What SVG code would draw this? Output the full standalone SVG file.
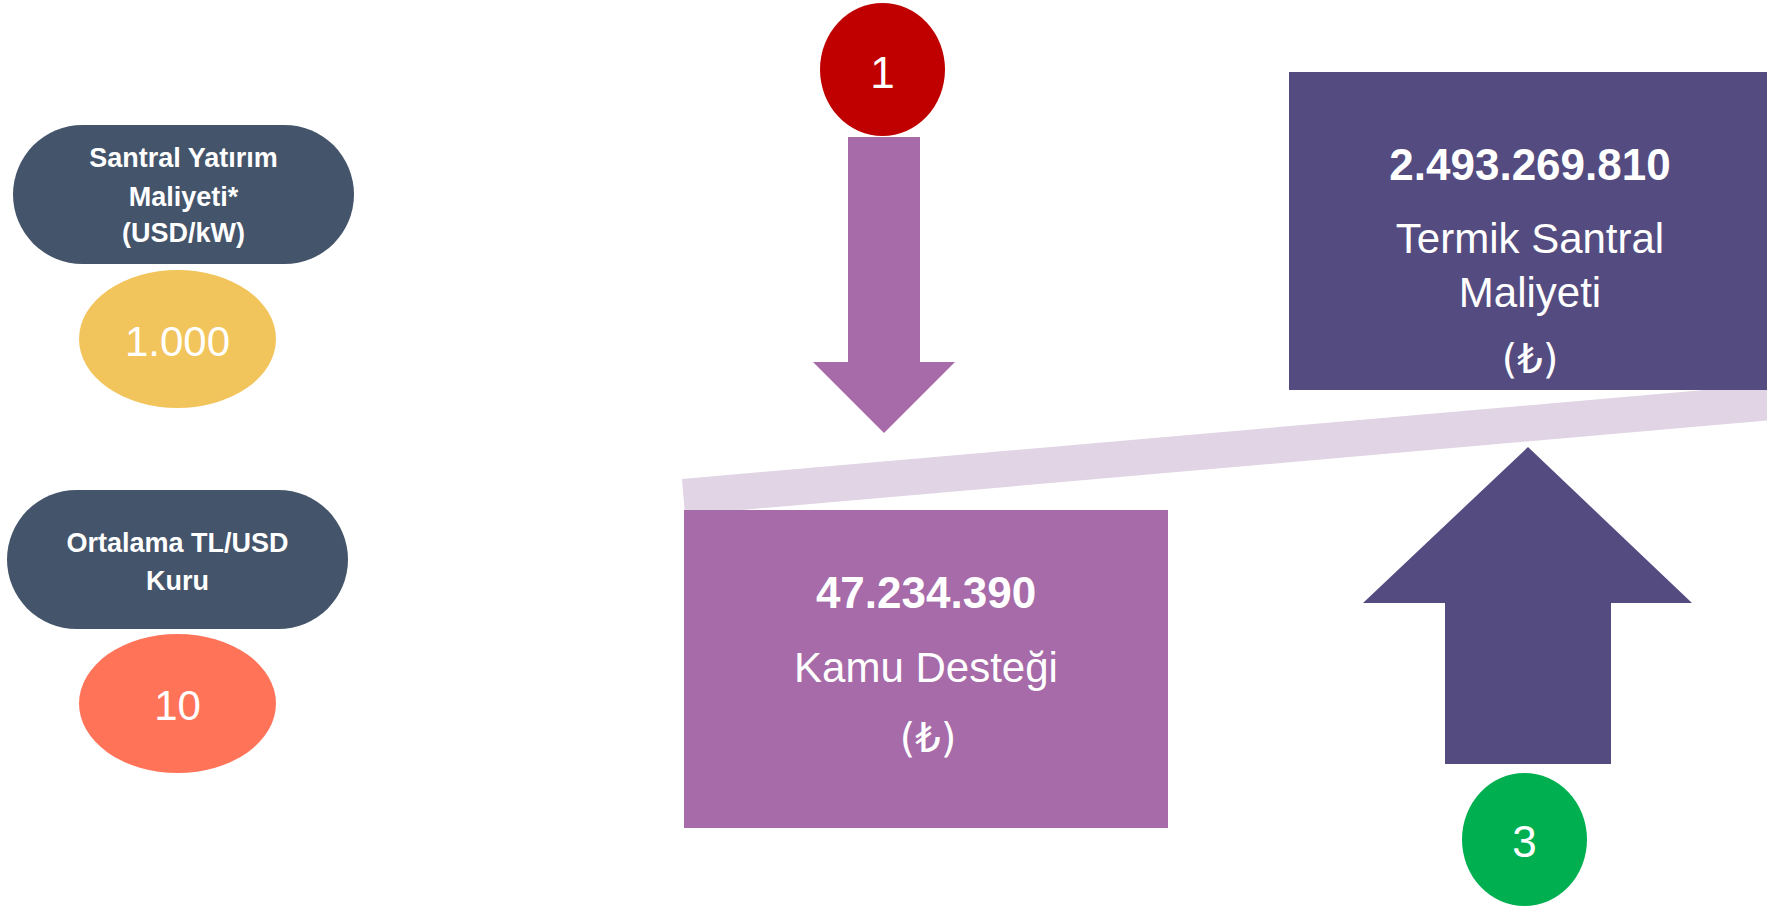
<svg xmlns="http://www.w3.org/2000/svg" width="1767" height="908" viewBox="0 0 1767 908">
  <style>
    text { font-family: "Liberation Sans", "DejaVu Sans", sans-serif; fill: #ffffff; text-anchor: middle; }
    .pill { fill: #44546A; }
    .lbl { font-size: 27px; font-weight: bold; }
    .val { font-size: 42px; }
    .big { font-size: 44px; font-weight: bold; }
    .reg { font-size: 42px; }
    .cur { font-size: 40px; font-family: "DejaVu Sans", "Noto Sans", sans-serif; }
    .num { font-size: 44px; }
  </style>
  <rect width="1767" height="908" fill="#ffffff"/>

  <g id="beam">
    <polygon points="682,479 1800,381.7 1800,417.7 685,515" fill="#E1D5E5"/>
  </g>

  <g id="connectors">
    <polygon id="arrow-down" points="848,137 920,137 920,362 955,362 884,433 813,362 848,362" fill="#A66BA8"/>
    <polygon id="arrow-up" points="1528,447 1692,603 1611,603 1611,764 1445,764 1445,603 1363,603" fill="#544C80"/>
  </g>

  <g id="node-yatirim">
    <rect class="pill" x="13" y="125" width="341" height="139" rx="69.5" ry="69.5"/>
    <text class="lbl" x="183.5" y="167">Santral Yatırım</text>
    <text class="lbl" x="183.5" y="206">Maliyeti*</text>
    <text class="lbl" x="183.5" y="242">(USD/kW)</text>
  </g>

  <g id="node-yatirim-val">
    <ellipse cx="177.5" cy="339" rx="98.5" ry="69" fill="#F2C55C"/>
    <text class="val" x="177.5" y="356">1.000</text>
  </g>

  <g id="node-kur">
    <rect class="pill" x="7" y="490" width="341" height="139" rx="69.5" ry="69.5"/>
    <text class="lbl" x="177.5" y="552">Ortalama TL/USD</text>
    <text class="lbl" x="177.5" y="590">Kuru</text>
  </g>

  <g id="node-kur-val">
    <ellipse cx="177.5" cy="703.5" rx="98.5" ry="69.5" fill="#FF7459"/>
    <text class="val" x="177.5" y="720">10</text>
  </g>

  <g id="node-1">
    <ellipse cx="882.5" cy="69.5" rx="62.5" ry="66.5" fill="#C00000"/>
    <text class="num" x="882.5" y="88">1</text>
  </g>

  <g id="node-kamu">
    <rect x="684" y="510" width="484" height="318" fill="#A66BA8"/>
    <text class="big" x="926" y="608">47.234.390</text>
    <text class="reg" x="926" y="682">Kamu Desteği</text>
    <text class="cur" x="928" y="752">(₺)</text>
  </g>

  <g id="node-termik">
    <rect x="1289" y="72" width="478" height="318" fill="#544C80"/>
    <text class="big" x="1530" y="180">2.493.269.810</text>
    <text class="reg" x="1530" y="253">Termik Santral</text>
    <text class="reg" x="1530" y="307">Maliyeti</text>
    <text class="cur" x="1530" y="373">(₺)</text>
  </g>

  <g id="node-3">
    <ellipse cx="1524.5" cy="839.5" rx="62.5" ry="66.5" fill="#00B050"/>
    <text class="num" x="1524.5" y="857">3</text>
  </g>
</svg>
